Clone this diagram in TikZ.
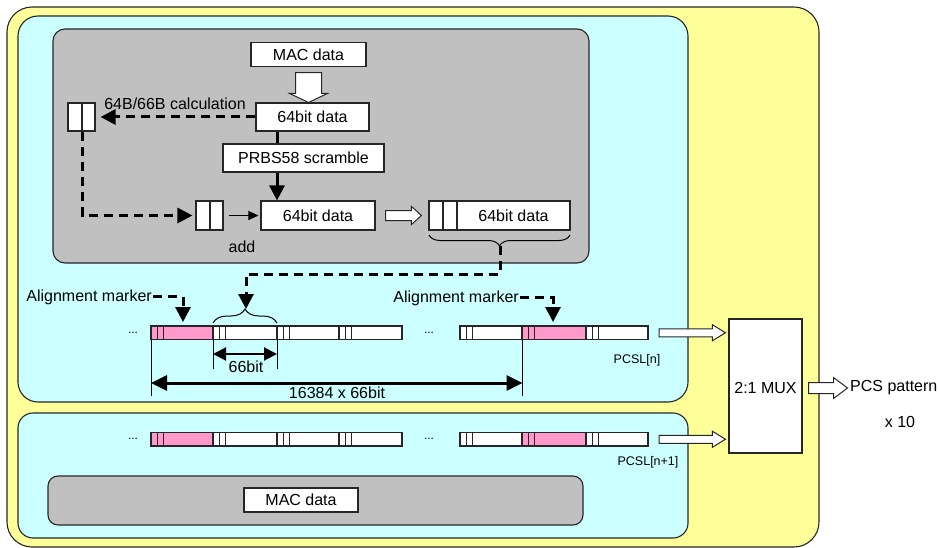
\documentclass[tikz,border=0pt]{standalone}
\usepackage{fontspec}
\setmainfont{Liberation Sans}
\usetikzlibrary{arrows.meta,calc,decorations.pathreplacing}

\definecolor{panelyellow}{HTML}{FFFF99}
\definecolor{lanecyan}{HTML}{CCFFFF}
\definecolor{blockgray}{HTML}{C0C0C0}
\definecolor{markpink}{HTML}{FF99CC}
\definecolor{edge}{HTML}{262626}

% one 66-bit block of a lane: two sync-header cells and the payload cell
% #1 left x, #2 right x, #3 top y, #4 #5 header fills, #6 payload fill
\newcommand\laneblock[6]{%
  \draw[lanecell, fill=#6] (#1+12.6,#3) rectangle (#2,#3+13.5);
  \draw[lanecell, fill=#4] (#1,#3) rectangle (#1+6.3,#3+13.5);
  \draw[lanecell, fill=#5] (#1+6.3,#3) rectangle (#1+12.6,#3+13.5);}

% a lane row, #1 top y, #2 prefix of its coordinates
\newcommand\lanerow[2]{%
  \laneblock{151}{213}{#1}{markpink}{markpink}{markpink}
  \laneblock{213}{277}{#1}{white}{white}{white}
  \laneblock{277}{339}{#1}{white}{white}{white}
  \laneblock{339}{402}{#1}{white}{white}{white}
  \laneblock{460}{522}{#1}{white}{white}{white}
  \laneblock{522}{586}{#1}{markpink}{markpink}{markpink}
  \laneblock{586}{648}{#1}{white}{white}{white}
  \coordinate (#2-a) at (151,#1+13.5);
  \coordinate (#2-b) at (213,#1+13.5);
  \coordinate (#2-c) at (277,#1+13.5);
  \coordinate (#2-m) at (522.5,#1+13.5);
  \coordinate (#2-end) at (648,#1+6.75);
  \node[dots] (#2-dl) at (133,#1+6.75) {...};
  \node[dots] (#2-dm) at (429,#1+6.75) {...};}

% hollow block arrows: tail, tip, half shaft, half head, head length
\newcommand\fatright[5]{%
  \draw[fat] let \p1=#1, \p2=#2 in
    (\x1,\y1-#3) -- (\x2-#5,\y1-#3) -- (\x2-#5,\y1-#4) -- (\x2,\y1) --
    (\x2-#5,\y1+#4) -- (\x2-#5,\y1+#3) -- (\x1,\y1+#3) -- cycle;}
\newcommand\fatdown[5]{%
  \draw[fat] let \p1=#1, \p2=#2 in
    (\x1-#3,\y1) -- (\x1-#3,\y2+#5) -- (\x1-#4,\y2+#5) -- (\x1,\y2) --
    (\x1+#4,\y2+#5) -- (\x1+#3,\y2+#5) -- (\x1+#3,\y1) -- cycle;}

\begin{document}
\begin{tikzpicture}[x=1pt,y=-1pt,
  font=\fontsize{16}{19}\selectfont,
  every node/.style={inner sep=0pt},
  panel/.style={draw=edge, line width=1.1pt},
  box/.style={draw=edge, fill=white, line width=1.1pt, minimum height=28},
  lanecell/.style={draw=black!85, line width=1.5pt},
  dots/.style={font=\fontsize{12}{14}\selectfont},
  small/.style={font=\fontsize{12.5}{15}\selectfont},
  dashflow/.style={line width=3pt, dash pattern=on 9pt off 6pt,
    -{Triangle[length=15pt,width=15pt]}},
  solidflow/.style={line width=3pt, -{Triangle[length=15pt,width=15pt]}},
  thinflow/.style={line width=1pt, -{Triangle[length=10pt,width=9pt]}},
  fat/.style={draw=edge, fill=white, line width=1pt, line join=miter},
  guide/.style={line width=0.9pt},
  bigdim/.style={line width=3pt,
    {Triangle[length=16pt,width=15pt]}-{Triangle[length=16pt,width=15pt]}},
  smalldim/.style={line width=2pt,
    {Triangle[length=13pt,width=13pt]}-{Triangle[length=13pt,width=13pt]}},
  bracket/.style={line width=1pt, decorate},
]
\useasboundingbox (0,0) rectangle (939,548);

% nested panels
\draw[panel, fill=panelyellow, rounded corners=25] (7,7) rectangle (819,547);
\draw[panel, fill=lanecyan, rounded corners=20] (18,16) rectangle (688,402);
\draw[panel, fill=blockgray, rounded corners=12] (53,29) rectangle (589,263);
\draw[panel, fill=lanecyan, rounded corners=15] (18,413) rectangle (688,538);
\draw[panel, fill=blockgray, rounded corners=10] (48,476) rectangle (583,525);

% encoder chain
\node[box, minimum width=115, minimum height=24] (mac1) at (308.5,54.5) {MAC data};
\node[box, minimum width=113] (d64a) at (312.5,117) {64bit data};
\node[box, minimum width=161] (prbs) at (303.5,158) {PRBS58 scramble};
\node[box, minimum width=114, minimum height=29] (d64b) at (318,215.5) {64bit data};

\node[box, minimum width=14] (pl1) at (75,117) {};
\node[box, minimum width=13] (pl2) at (88.5,117) {};
\node[box, minimum width=14, minimum height=29] (pa1) at (203,215.5) {};
\node[box, minimum width=13, minimum height=29] (pa2) at (216.5,215.5) {};

\node[box, minimum width=14, minimum height=29] (c1) at (436,215.5) {};
\node[box, minimum width=14, minimum height=29] (c2) at (450,215.5) {};
\node[box, minimum width=113, minimum height=29] (c3) at (513.5,215.5) {64bit data};

\node (calc) at (175,104) {64B/66B calculation};
\node (addlbl) at (242,247) {add};

\fatdown{($(mac1.south)+(0,5.5)$)}{($(mac1.south |- d64a.north)$)}{13pt}{19pt}{9pt}
\fatright{($(d64b.east)+(10,0)$)}{($(c1.west)+(-7,0)$)}{5pt}{9pt}{10pt}

\coordinate (spine) at (277,0);
\draw[line width=3pt] (d64a.south -| spine) -- (prbs.north -| spine);
\draw[solidflow] (prbs.south -| spine) -- (d64b.north -| spine);
\draw[dashflow, shorten >=5pt] (d64a.west) -- (pl2.east);
\draw[dashflow, shorten >=3pt] (pl1.south east) |- (pa1.west);
\draw[thinflow, shorten <=5pt, shorten >=2pt] (pa2.east) -- (d64b.west);

% lanes
\lanerow{326}{r1}
\lanerow{432.5}{r2}
\node[small] (pcsl1) at (637,360) {PCSL[n]};
\node[small] (pcsl2) at (648,462) {PCSL[n+1]};

% bracket of the encoded block and its path into the lane
\draw[bracket, decoration={brace, amplitude=11pt}] (570,235) -- (429,235);
\draw[bracket, decoration={brace, amplitude=14pt}] (213,323) -- (277,323);
\coordinate (cbtip) at (500,246);
\coordinate (lbtip) at (246,309);
\draw[dashflow] (cbtip) -- (cbtip |- 0,274) -| (lbtip);

% alignment markers
\node[anchor=base east] (amL) at (152,301) {Alignment marker};
\node[anchor=base east] (amR) at (519,302) {Alignment marker};
\coordinate (amLtip) at (183,322);
\coordinate (amRtip) at (553,322);
\draw[dashflow, shorten <=1pt] (amL.east) -| (amLtip);
\draw[dashflow, shorten <=1pt] (amR.east) -| (amRtip);

% dimensions
\draw[guide] (r1-a) -- ++(0,56);
\draw[guide] (r1-m) -- ++(0,56);
\draw[guide] (r1-b) -- ++(0,29);
\draw[guide] (r1-c) -- ++(0,29);
\draw[smalldim] ($(r1-b)+(0,14.5)$) -- ($(r1-c)+(0,14.5)$);
\draw[bigdim] ($(r1-a)+(0,43.5)$) -- ($(r1-m)+(0,43.5)$);
\node (w66) at (246,367) {66bit};
\node (w16k) at (337,393) {16384 x 66bit};

% bottom group
\node[box, minimum width=114, minimum height=24] (mac2) at (301,500) {MAC data};

% multiplexer
\node[box, minimum width=73, minimum height=134] (mux) at (765.5,386) {};
\node (muxlbl) at (765.5,388) {2:1 MUX};
\fatright{($(r1-end)+(11,0)$)}{($(mux.west |- r1-end)+(-3,0)$)}{4pt}{8pt}{13pt}
\fatright{($(r2-end)+(11,0)$)}{($(mux.west |- r2-end)+(-3,0)$)}{4pt}{8pt}{13pt}
\fatright{($(mux.east)+(6,2)$)}{($(mux.east)+(45,2)$)}{5.5pt}{10.5pt}{14pt}
\node[anchor=west] (pcs) at (850,388) {PCS pattern};
\node (x10) at (900,422) {x 10};
\end{tikzpicture}
\end{document}
